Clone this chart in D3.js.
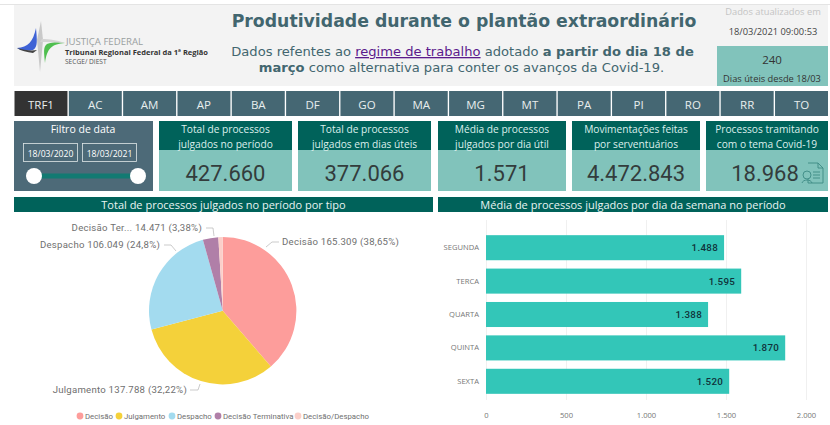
<!DOCTYPE html>
<html>
<head>
<meta charset="utf-8">
<script src="https://cdnjs.cloudflare.com/ajax/libs/d3/7.8.5/d3.min.js"></script>
<style>
body { margin: 0; background: #fff; overflow: hidden; }
text { font-family: "Open Sans", sans-serif; }
.din { font-family: Roboto, sans-serif; }
</style>
</head>
<body>
<div id="chart"></div>
<script>
var tabs = ["TRF1","AC","AM","AP","BA","DF","GO","MA","MG","MT","PA","PI","RO","RR","TO"];

var cardLines = [
	["Total de processos","julgados no período"],
	["Total de processos","julgados em dias úteis"],
	["Média de processos","julgados por dia útil"],
	["Movimentações feitas","por serventuários"],
	["Processos tramitando","com o tema Covid-19"]
];
var cardValues = ["427.660","377.066","1.571","4.472.843","18.968"];
var cardLefts = [159,298,438,572,706];
var cardRights = [292,431,566,700,828];

var pieNames = ["Decisão","Julgamento","Despacho","Decisão Terminativa","Decisão/Despacho"];
var pieValues = [165309,137788,106049,14471,4043];
var pieColors = ["#fd9d9b","#f4d13a","#a3dbef","#b07fa8","#fbcfc9"];
var pieLabels = ["Decisão 165.309 (38,65%)","Julgamento 137.788 (32,22%)","Despacho 106.049 (24,8%)","Decisão Ter... 14.471 (3,38%)"];

var days = ["SEGUNDA","TERCA","QUARTA","QUINTA","SEXTA"];
var dayValues = [1488,1595,1388,1870,1520];
var dayLabels = ["1.488","1.595","1.388","1.870","1.520"];
var xTicks = [0,500,1000,1500,2000];
var xTickLabels = ["0","500","1.000","1.500","2.000"];

var svg = d3.select("#chart").append("svg")
	.attr("width", 830)
	.attr("height", 425);

var DARK = "#00625a", SLATE = "#456773", BODY = "#81c3bb";

// header
svg.append("rect").attr("x",0).attr("y",4).attr("width",830).attr("height",1).attr("fill","#e4e4e4");
svg.append("rect").attr("x",14).attr("y",5).attr("width",814).attr("height",81).attr("fill","#f3f3f3");

drawLogo();

svg.append("text").attr("x",464).attr("y",26.5).attr("text-anchor","middle")
	.style("font-family","'DejaVu Sans'").style("font-weight","bold").style("font-size","17.3px").attr("fill","#42666f")
	.text("Produtividade durante o plantão extraordinário");

var line1 = svg.append("text").attr("x",462.5).attr("y",56).attr("text-anchor","middle")
	.style("font-family","'DejaVu Sans'").style("font-size","13.1px").attr("fill","#42666f");
line1.append("tspan").text("Dados refentes ao ");
line1.append("tspan").attr("fill","#5b1a8c").style("text-decoration","underline").text("regime de trabalho");
line1.append("tspan").text(" adotado ");
line1.append("tspan").style("font-weight","bold").text("a partir do dia 18 de");

var line2 = svg.append("text").attr("x",461.5).attr("y",72).attr("text-anchor","middle")
	.style("font-family","'DejaVu Sans'").style("font-size","13.1px").attr("fill","#42666f");
line2.append("tspan").style("font-weight","bold").text("março");
line2.append("tspan").text(" como alternativa para conter os avanços da Covid-19.");

svg.append("text").attr("x",773).attr("y",15).attr("text-anchor","middle").style("font-size","9.3px").attr("fill","#c4c4c4").text("Dados atualizados em");
svg.append("text").attr("x",773).attr("y",35).attr("text-anchor","middle").style("font-size","9.3px").attr("fill","#444").text("18/03/2021 09:00:53");
svg.append("rect").attr("x",717).attr("y",46).attr("width",111).attr("height",40).attr("fill",BODY);
svg.append("text").attr("x",772).attr("y",64).attr("text-anchor","middle").style("font-size","11.5px").attr("fill","#333").text("240");
svg.append("text").attr("x",772).attr("y",82).attr("text-anchor","middle").style("font-size","9.3px").attr("fill","#333").text("Dias úteis desde 18/03");

// tabs
var tabX = d3.scaleBand().domain(tabs).range([14.5,828]).paddingInner(0.025);
var tabG = svg.selectAll(".tab").data(tabs).enter().append("g").attr("class","tab");
tabG.append("rect")
	.attr("x", function(d) { return tabX(d); })
	.attr("y", 91)
	.attr("width", tabX.bandwidth())
	.attr("height", 25)
	.attr("fill", function(d, i) { return i == 0 ? "#333333" : SLATE; });
tabG.append("text")
	.attr("x", function(d) { return tabX(d) + tabX.bandwidth()/2; })
	.attr("y", 109)
	.attr("text-anchor","middle")
	.style("font-size","11.5px")
	.attr("fill","#e8eeee")
	.text(function(d) { return d; });

// date filter panel
svg.append("rect").attr("x",14).attr("y",121).attr("width",139).attr("height",70).attr("fill","#4d6a78");
svg.append("text").attr("x",83).attr("y",133).attr("text-anchor","middle").style("font-size","10.5px").attr("fill","#fff").text("Filtro de data");
[["18/03/2020",23.5],["18/03/2021",82.5]].forEach(function(d) {
	svg.append("rect").attr("x",d[1]).attr("y",143.5).attr("width",54).attr("height",18).attr("fill","none").attr("stroke","#dfe6e8").attr("stroke-width",0.8);
	svg.append("text").attr("x",d[1]+27).attr("y",156.5).attr("text-anchor","middle").style("font-size","8.6px").attr("fill","#fff").text(d[0]);
});
svg.append("rect").attr("x",34).attr("y",173.5).attr("width",104).attr("height",5).attr("fill","#127a72");
[34,138].forEach(function(cx) {
	svg.append("circle").attr("cx",cx).attr("cy",176).attr("r",8).attr("fill","#fff");
});

// kpi cards
cardValues.forEach(function(v, i) {
	var x0 = cardLefts[i], x1 = cardRights[i], mid = (x0+x1)/2;
	svg.append("rect").attr("x",x0).attr("y",150).attr("width",x1-x0).attr("height",41).attr("fill",BODY);
	svg.append("rect").attr("x",x0).attr("y",121).attr("width",x1-x0).attr("height",29).attr("fill",DARK);
	cardLines[i].forEach(function(t, j) {
		svg.append("text").attr("x",mid).attr("y",133+j*14.5).attr("text-anchor","middle")
			.style("font-size","10.2px").attr("fill","#dcefec").text(t);
	});
	svg.append("text").attr("class","din").attr("x", i == 4 ? mid-2 : mid).attr("y",180.5).attr("text-anchor","middle")
		.style("font-size","22px").attr("fill","#333c3c").text(v);
});

// little document icon of the last card
var icon = svg.append("g").attr("fill","none").attr("stroke","#3d8a85").attr("stroke-width",0.9);
icon.append("path").attr("d","M808 163h10l5 5v15h-15v-4M818 163v5h5M813 172h7M813 175h7M813 178h7");
icon.append("circle").attr("cx",807).attr("cy",175).attr("r",4);
icon.append("path").attr("d","M802 183c1-4 9-4 10 0");

// section titles
[[14,433,"Total de processos julgados no período por tipo"],[438,828,"Média de processos julgados por dia da semana no período"]].forEach(function(d) {
	svg.append("rect").attr("x",d[0]).attr("y",197).attr("width",d[1]-d[0]).attr("height",15).attr("fill",DARK);
	svg.append("text").attr("x",(d[0]+d[1])/2).attr("y",209).attr("text-anchor","middle")
		.style("font-size","11px").attr("fill","#e8f4f2").text(d[2]);
});

drawPie();
drawBars();

function drawLogo() {
	var g = svg.append("g");
	g.append("path").attr("d","M41 21L43 40L40 72L37 40Z").attr("fill","#c9c9c9");
	g.append("path").attr("d","M17 48C28 47 33 42 36 28C37 40 38 47 33 50C28 51 22 51 17 48Z").attr("fill","#3f63d6");
	g.append("path").attr("d","M17 48C24 50 31 51 37 50L33 53C27 52 21 51 17 48Z").attr("fill","#444");
	g.append("path").attr("d","M65 43C52 44 47 48 45 63C44 52 43 47 47 44C52 42 59 42 65 43Z").attr("fill","#4fbf4f");
	g.append("path").attr("d","M65 43C56 40 50 39 42 39L40 42C48 42 56 42 65 43Z").attr("fill","#d4d4d4");
	g.append("text").attr("x",66).attr("y",45).style("font-size","9.6px").attr("fill","#9aa0a0").text("JUSTIÇA FEDERAL");
	g.append("text").attr("x",65).attr("y",54.5).style("font-size","7.5px").style("font-weight","bold").attr("fill","#333").text("Tribunal Regional Federal da 1ª Região");
	g.append("text").attr("x",65).attr("y",64).style("font-size","6.6px").attr("fill","#555").text("SECGE/ DIEST");
}

function drawPie() {
	var cx = 222.7, cy = 310.7, r = 73.7;
	var pie = d3.pie().sort(null).value(function(d) { return d; });
	var arc = d3.arc().innerRadius(0).outerRadius(r);
	var arcs = pie(pieValues);

	var g = svg.append("g").attr("transform","translate("+cx+","+cy+")");
	g.selectAll("path").data(arcs).enter().append("path")
		.attr("d", arc)
		.attr("fill", function(d, i) { return pieColors[i]; });

	// outside labels, text position and leader line points in page coordinates
	var labelPos = [
		{x:282,y:245,anchor:"start",line:[[266,247],[272,242],[279,242]]},
		{x:187,y:393,anchor:"end",line:[[200,384],[198,390],[190,390]]},
		{x:160,y:248,anchor:"end",line:[[176,251],[171,245],[164,245]]},
		{x:202,y:231,anchor:"end",line:[[214,236],[213,228],[206,228]]}
	];
	pieLabels.forEach(function(t, i) {
		svg.append("path")
			.attr("d", d3.line()(labelPos[i].line))
			.attr("fill","none").attr("stroke","#b5b5b5").attr("stroke-width",0.7);
		svg.append("text").attr("class","din")
			.attr("x", labelPos[i].x).attr("y", labelPos[i].y)
			.attr("text-anchor", labelPos[i].anchor)
			.style("font-size","9.6px").style("letter-spacing","0.25px").attr("fill","#6f6f6f")
			.text(t);
	});

	// legend
	var legendX = [80,119,172,218,298];
	var legend = svg.selectAll(".legend").data(pieNames).enter().append("g").attr("class","legend");
	legend.append("circle")
		.attr("cx", function(d, i) { return legendX[i]; })
		.attr("cy", 416).attr("r",3.4)
		.attr("fill", function(d, i) { return pieColors[i]; });
	legend.append("text").attr("class","din")
		.attr("x", function(d, i) { return legendX[i]+5; })
		.attr("y", 419)
		.style("font-size","7.8px").attr("fill","#6f6f6f")
		.text(function(d) { return d; });
}

function drawBars() {
	var x = d3.scaleLinear().domain([0,2000]).range([486,806]);
	var y = d3.scaleBand().domain(days).range([231,398]).paddingInner(0.25).paddingOuter(0.125);

	var gx = svg.append("g").attr("transform","translate(0,400)")
		.call(d3.axisBottom(x).tickValues(xTicks).tickSize(-180).tickPadding(13)
			.tickFormat(function(d, i) { return xTickLabels[i]; }));
	gx.select(".domain").remove();
	gx.selectAll("line").attr("stroke","#f0f0f0");
	gx.selectAll("text").style("font-size","7.6px").attr("fill","#777");

	var gy = svg.append("g").attr("transform","translate(486,0)")
		.call(d3.axisLeft(y).tickSize(0).tickPadding(7));
	gy.select(".domain").remove();
	gy.selectAll("text").style("font-size","7.6px").attr("fill","#777");

	svg.selectAll(".bar").data(dayValues).enter().append("rect")
		.attr("class","bar")
		.attr("x", x(0))
		.attr("y", function(d, i) { return y(days[i]); })
		.attr("width", function(d) { return x(d) - x(0); })
		.attr("height", y.bandwidth())
		.attr("fill","#33c6b8");

	svg.selectAll(".barLabel").data(dayValues).enter().append("text")
		.attr("class","barLabel din")
		.attr("x", function(d) { return x(d) - 6; })
		.attr("y", function(d, i) { return y(days[i]) + y.bandwidth()/2 + 3.5; })
		.attr("text-anchor","end")
		.style("font-size","9.8px").style("font-weight","500").style("letter-spacing","0.3px")
		.attr("fill","#10323a")
		.text(function(d, i) { return dayLabels[i]; });
}
</script>
</body>
</html>
